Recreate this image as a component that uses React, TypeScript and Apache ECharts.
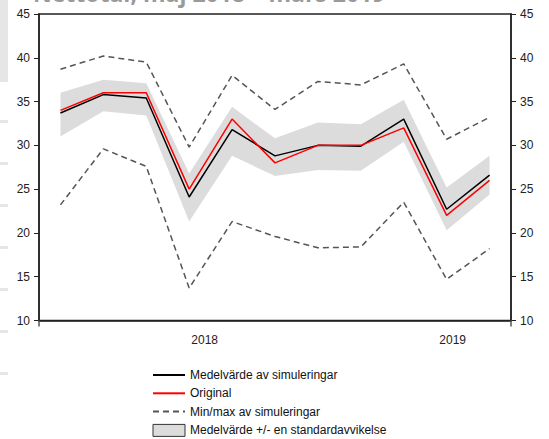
import React, { useEffect, useRef } from "react";
import * as echarts from "echarts";

const categories = [
  "2018-05", "2018-06", "2018-07", "2018-08", "2018-09", "2018-10",
  "2018-11", "2018-12", "2019-01", "2019-02", "2019-03",
];
const meanSim = [33.7, 35.8, 35.4, 24.1, 31.8, 28.8, 30.0, 29.9, 33.0, 22.7, 26.6];
const original = [34.0, 36.0, 36.0, 25.0, 33.0, 28.0, 30.0, 30.0, 32.0, 22.0, 26.0];
const maxSim = [38.7, 40.2, 39.5, 29.8, 38.0, 34.1, 37.3, 36.9, 39.3, 30.7, 33.2];
const minSim = [23.2, 29.6, 27.6, 13.7, 21.3, 19.6, 18.3, 18.4, 23.5, 14.7, 18.2];
const bandUpper = [36.0, 37.5, 37.1, 26.8, 34.4, 30.8, 32.6, 32.4, 35.2, 25.2, 28.8];
const bandLower = [31.0, 33.9, 33.4, 21.3, 28.8, 26.5, 27.2, 27.1, 30.4, 20.3, 24.4];
const yearLabels: Record<number, string> = { 3: "2018", 9: "2019" };
const yearTickIndex = 8;

const NAME_MEAN = "Medelvärde av simuleringar";
const NAME_ORIG = "Original";
const NAME_MINMAX = "Min/max av simuleringar";
const NAME_BAND = "Medelvärde +/- en standardavvikelse";
const TITLE = "Nettotal, maj 2018 – mars 2019";

const FONT = "'Liberation Sans', Arial, sans-serif";

export default function App() {
  const ref = useRef<HTMLDivElement>(null);
  useEffect(() => {
    if (!ref.current) return;
    const chart = echarts.init(ref.current, undefined, { renderer: "svg" });
    const bandDiff = bandUpper.map((u, i) => +(u - bandLower[i]).toFixed(2));
    const yAxisCommon = {
      type: "value",
      min: 10,
      max: 45,
      interval: 5,
      splitLine: { show: false },
      axisLine: { show: true, lineStyle: { color: "#222", width: 1.5 } },
      axisTick: { show: true, inside: false, length: 5, lineStyle: { color: "#222", width: 1 } },
      axisLabel: { color: "#222", fontSize: 12, fontFamily: FONT, margin: 9 },
    };
    const hiddenSymbol = { opacity: 0, color: "transparent", borderWidth: 0 };
    chart.setOption({
      animation: false,
      backgroundColor: "#fff",
      title: {
        text: TITLE,
        left: 33,
        top: -19,
        padding: 0,
        textStyle: { fontSize: 23, fontWeight: "bold", color: "#9a9a9a", fontFamily: "'Open Sans', sans-serif" },
      },
      graphic: [
        { type: "rect", shape: { x: 0, y: 0, width: 8, height: 82 }, style: { fill: "#e6e6e6" } },
        ...[120, 162, 204, 246, 288, 330, 372].map((y) => ({
          type: "rect",
          shape: { x: 0, y, width: 8, height: 3 },
          style: { fill: "#e6e6e6" },
        })),
      ],
      grid: {
        left: 39,
        right: 38,
        top: 14,
        bottom: 118.5,
        show: true,
        borderColor: "#222",
        borderWidth: 1.5,
        backgroundColor: "transparent",
      },
      legend: {
        orient: "vertical",
        left: 152,
        top: 369,
        padding: 0,
        height: 70,
        itemWidth: 32,
        itemHeight: 12,
        itemGap: 6.3,
        textStyle: { fontSize: 12, color: "#111", fontFamily: FONT },
        data: [
          { name: NAME_MEAN, itemStyle: hiddenSymbol },
          { name: NAME_ORIG, itemStyle: hiddenSymbol },
          { name: NAME_MINMAX, itemStyle: hiddenSymbol },
          { name: NAME_BAND, icon: "rect", itemStyle: { color: "#dcdcdc", borderColor: "#333", borderWidth: 1 } },
        ],
      },
      xAxis: {
        type: "category",
        data: categories,
        boundaryGap: true,
        axisLine: { show: true, lineStyle: { color: "#222", width: 1.5 } },
        axisTick: {
          show: true,
          interval: (i: number) => i === yearTickIndex,
          length: 6,
          lineStyle: { color: "#555", width: 1.5 },
        },
        axisLabel: {
          interval: (i: number) => yearLabels[i] !== undefined,
          formatter: (_v: string, i: number) => (i === 3 ? `{a|${yearLabels[i]}}` : `{b|${yearLabels[i] ?? ""}}`),
          margin: 13,
          color: "#222",
          fontSize: 12,
          fontFamily: FONT,
          rich: {
            a: { padding: [0, 0, 0, 31], fontSize: 12, fontFamily: FONT, color: "#222" },
            b: { padding: [0, 0, 0, 12], fontSize: 12, fontFamily: FONT, color: "#222" },
          },
        },
      },
      yAxis: [
        { ...yAxisCommon, position: "left" },
        { ...yAxisCommon, position: "right" },
      ],
      series: [
        {
          name: "bandLow",
          type: "line",
          stack: "band",
          data: bandLower,
          symbol: "none",
          lineStyle: { opacity: 0 },
          silent: true,
        },
        {
          name: NAME_BAND,
          type: "line",
          stack: "band",
          data: bandDiff,
          symbol: "none",
          lineStyle: { opacity: 0, width: 0 },
          itemStyle: { color: "#dcdcdc" },
          areaStyle: { color: "#dcdcdc", opacity: 1 },
          silent: true,
        },
        {
          name: NAME_MINMAX,
          type: "line",
          data: maxSim,
          symbol: "none",
          itemStyle: { color: "#555" },
          lineStyle: { color: "#555", width: 1.5, type: [6, 4] },
        },
        {
          name: NAME_MINMAX,
          type: "line",
          data: minSim,
          symbol: "none",
          itemStyle: { color: "#555" },
          lineStyle: { color: "#555", width: 1.5, type: [6, 4] },
        },
        {
          name: NAME_MEAN,
          type: "line",
          data: meanSim,
          symbol: "none",
          itemStyle: { color: "#000" },
          lineStyle: { color: "#000", width: 1.5 },
        },
        {
          name: NAME_ORIG,
          type: "line",
          data: original,
          symbol: "none",
          itemStyle: { color: "#ff0000" },
          lineStyle: { color: "#ff0000", width: 1.5 },
        },
      ],
    });
    return () => chart.dispose();
  }, []);
  return (
    <div
      ref={ref}
      style={{ position: "absolute", left: 0, top: 0, width: 549, height: 439, background: "#fff" }}
    />
  );
}
